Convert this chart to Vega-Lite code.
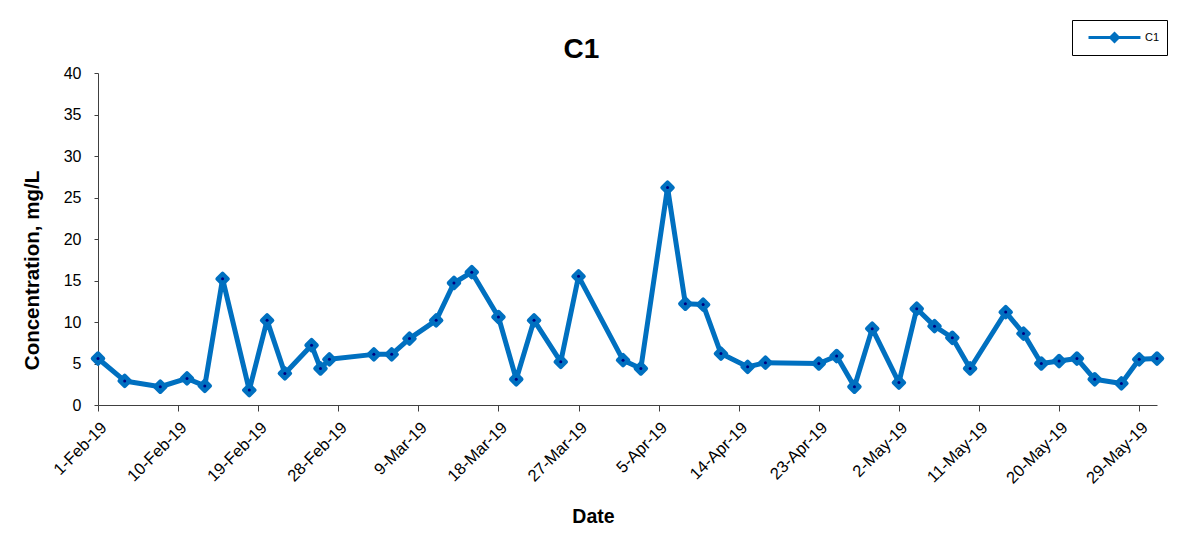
{
  "$schema": "https://vega.github.io/schema/vega-lite/v6.json",
  "autosize": {"type": "none"},
  "width": 1059,
  "height": 332,
  "padding": {"left": 98, "top": 73, "right": 27, "bottom": 128},
  "background": "white",
  "config": {
    "font": "Liberation Sans",
    "view": {"stroke": null},
    "axis": {"domainColor": "#404040", "tickColor": "#404040", "labelColor": "black", "titleColor": "black", "grid": false, "labelFont": "Liberation Sans", "titleFont": "Liberation Sans"}
  },
  "title": {"text": "C1", "fontSize": 28, "fontWeight": "bold", "font": "Liberation Sans", "anchor": "middle", "dx": -46, "offset": 14, "dy": 80, "baseline": "alphabetic", "color": "black"},
  "data": {
    "values": [
      {"date": "2019-02-01", "value": 5.6, "series": "C1"},
      {"date": "2019-02-04", "value": 2.9, "series": "C1"},
      {"date": "2019-02-08", "value": 2.2, "series": "C1"},
      {"date": "2019-02-11", "value": 3.2, "series": "C1"},
      {"date": "2019-02-13", "value": 2.3, "series": "C1"},
      {"date": "2019-02-15", "value": 15.2, "series": "C1"},
      {"date": "2019-02-18", "value": 1.8, "series": "C1"},
      {"date": "2019-02-20", "value": 10.2, "series": "C1"},
      {"date": "2019-02-22", "value": 3.8, "series": "C1"},
      {"date": "2019-02-25", "value": 7.2, "series": "C1"},
      {"date": "2019-02-26", "value": 4.4, "series": "C1"},
      {"date": "2019-02-27", "value": 5.5, "series": "C1"},
      {"date": "2019-03-04", "value": 6.1, "series": "C1"},
      {"date": "2019-03-06", "value": 6.1, "series": "C1"},
      {"date": "2019-03-08", "value": 8.0, "series": "C1"},
      {"date": "2019-03-11", "value": 10.2, "series": "C1"},
      {"date": "2019-03-13", "value": 14.7, "series": "C1"},
      {"date": "2019-03-15", "value": 16.0, "series": "C1"},
      {"date": "2019-03-18", "value": 10.6, "series": "C1"},
      {"date": "2019-03-20", "value": 3.1, "series": "C1"},
      {"date": "2019-03-22", "value": 10.2, "series": "C1"},
      {"date": "2019-03-25", "value": 5.2, "series": "C1"},
      {"date": "2019-03-27", "value": 15.5, "series": "C1"},
      {"date": "2019-04-01", "value": 5.4, "series": "C1"},
      {"date": "2019-04-03", "value": 4.4, "series": "C1"},
      {"date": "2019-04-06", "value": 26.2, "series": "C1"},
      {"date": "2019-04-08", "value": 12.2, "series": "C1"},
      {"date": "2019-04-10", "value": 12.1, "series": "C1"},
      {"date": "2019-04-12", "value": 6.2, "series": "C1"},
      {"date": "2019-04-15", "value": 4.6, "series": "C1"},
      {"date": "2019-04-17", "value": 5.1, "series": "C1"},
      {"date": "2019-04-23", "value": 5.0, "series": "C1"},
      {"date": "2019-04-25", "value": 5.9, "series": "C1"},
      {"date": "2019-04-27", "value": 2.2, "series": "C1"},
      {"date": "2019-04-29", "value": 9.2, "series": "C1"},
      {"date": "2019-05-02", "value": 2.7, "series": "C1"},
      {"date": "2019-05-04", "value": 11.6, "series": "C1"},
      {"date": "2019-05-06", "value": 9.5, "series": "C1"},
      {"date": "2019-05-08", "value": 8.1, "series": "C1"},
      {"date": "2019-05-10", "value": 4.4, "series": "C1"},
      {"date": "2019-05-14", "value": 11.2, "series": "C1"},
      {"date": "2019-05-16", "value": 8.6, "series": "C1"},
      {"date": "2019-05-18", "value": 5.0, "series": "C1"},
      {"date": "2019-05-20", "value": 5.3, "series": "C1"},
      {"date": "2019-05-22", "value": 5.6, "series": "C1"},
      {"date": "2019-05-24", "value": 3.1, "series": "C1"},
      {"date": "2019-05-27", "value": 2.6, "series": "C1"},
      {"date": "2019-05-29", "value": 5.5, "series": "C1"},
      {"date": "2019-05-31", "value": 5.6, "series": "C1"}
    ]
  },
  "encoding": {
    "x": {
      "field": "date", "type": "temporal",
      "scale": {"type": "utc", "domain": [{"year": 2019, "month": 2, "date": 1, "utc": true}, {"year": 2019, "month": 5, "date": 31, "utc": true}], "nice": false},
      "axis": {
        "title": "Date", "titleFontSize": 19.5, "titleFontWeight": "bold", "titleX": 495, "titleY": 111, "titleBaseline": "middle", "titleAlign": "center",
        "labelExpr": "utcFormat(datum.value, '%-d-%b-%y')",
        "values": [
          {"year": 2019, "month": 2, "date": 1, "utc": true},
          {"year": 2019, "month": 2, "date": 10, "utc": true},
          {"year": 2019, "month": 2, "date": 19, "utc": true},
          {"year": 2019, "month": 2, "date": 28, "utc": true},
          {"year": 2019, "month": 3, "date": 9, "utc": true},
          {"year": 2019, "month": 3, "date": 18, "utc": true},
          {"year": 2019, "month": 3, "date": 27, "utc": true},
          {"year": 2019, "month": 4, "date": 5, "utc": true},
          {"year": 2019, "month": 4, "date": 14, "utc": true},
          {"year": 2019, "month": 4, "date": 23, "utc": true},
          {"year": 2019, "month": 5, "date": 2, "utc": true},
          {"year": 2019, "month": 5, "date": 11, "utc": true},
          {"year": 2019, "month": 5, "date": 20, "utc": true},
          {"year": 2019, "month": 5, "date": 29, "utc": true}
        ],
        "labelAngle": -45, "labelAlign": "right", "labelBaseline": "top", "labelFontSize": 16.5, "labelPadding": 8,
        "tickSize": 6, "labelOverlap": false, "labelFlush": false
      }
    },
    "y": {
      "field": "value", "type": "quantitative",
      "scale": {"domain": [0, 40], "nice": false, "zero": true},
      "axis": {
        "title": "Concentration, mg/L", "titleFontSize": 20.5, "titleFontWeight": "bold", "titleX": -66, "titleY": 197, "titleBaseline": "middle", "titleAlign": "center",
        "values": [0, 5, 10, 15, 20, 25, 30, 35, 40], "labelFontSize": 16, "tickSize": 4, "labelPadding": 13
      }
    }
  },
  "layer": [
    {
      "mark": {"type": "line", "strokeWidth": 5, "strokeJoin": "round", "color": "#0070C0"},
      "encoding": {
        "color": {
          "field": "series", "type": "nominal",
          "scale": {"range": ["#0070C0"]},
          "legend": {
            "title": null, "orient": "none", "legendX": 974, "legendY": -53,
            "strokeColor": "black", "fillColor": "white", "padding": 7,
            "symbolType": "M-3,0H3M0,-0.45L0.45,0L0,0.45L-0.45,0Z",
            "symbolSize": 300, "symbolStrokeWidth": 3, "symbolStrokeColor": "#0070C0", "symbolFillColor": "#0070C0",
            "symbolOffset": 25, "labelOffset": 20,
            "labelFontSize": 11, "labelFont": "Liberation Sans", "labelColor": "black",
            "encode": {"symbols": {"update": {"fill": {"value": "#0070C0"}, "stroke": {"value": "#0070C0"}, "strokeWidth": {"value": 3}}}}
          }
        }
      }
    },
    {
      "mark": {"type": "point", "shape": "diamond", "filled": true, "size": 110, "color": "#0070C0", "stroke": "#0070C0", "strokeWidth": 4, "strokeJoin": "round", "opacity": 1}
    },
    {
      "mark": {"type": "point", "shape": "circle", "filled": true, "size": 9, "color": "#00007F", "opacity": 1}
    }
  ]
}
